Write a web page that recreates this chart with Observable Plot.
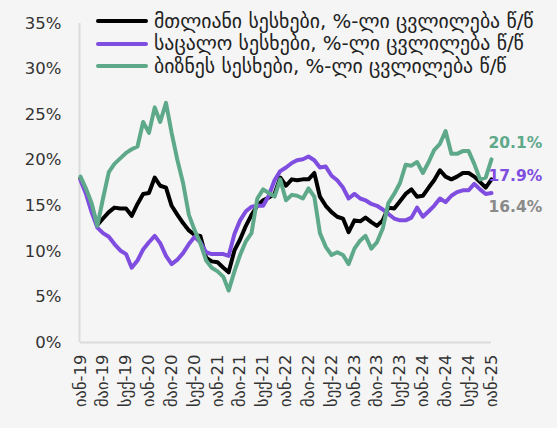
<!DOCTYPE html>
<html>
<head>
<meta charset="utf-8">
<script src="https://cdn.jsdelivr.net/npm/d3@7"></script>
<script src="https://cdn.jsdelivr.net/npm/@observablehq/plot@0.6"></script>
<style>
  html, body { margin: 0; padding: 0; background: #f5f5f5; }
  #wrap { position: relative; width: 557px; height: 428px; overflow: hidden; font-family: "DejaVu Sans", sans-serif; }
  #legend { position: absolute; left: 96px; top: 10px; font-size: 19.8px; color: #222; }
  .row { display: flex; align-items: center; height: 22.5px; white-space: nowrap; }
  .sw { width: 52px; height: 4px; border-radius: 2px; margin-right: 6px; flex: none; }
</style>
</head>
<body>
<div id="wrap"><div id="chart"></div><div id="legend"></div></div>
<script>
// Monthly, Jan 2019 .. Jan 2025
const startYear = 2019;
const monthNames = ["იან","თებ","მარ","აპრ","მაი","ივნ","ივლ","აგვ","სექ","ოქტ","ნოე","დეკ"];
const seriesNames = [
  "მთლიანი სესხები, %-ლი ცვლილება წ/წ",
  "საცალო სესხები, %-ლი ცვლილება წ/წ",
  "ბიზნეს სესხები, %-ლი ცვლილება წ/წ"
];
const totalLoans = [18.0,16.5,14.8,12.9,13.6,14.3,14.8,14.7,14.7,13.9,15.2,16.3,16.4,18.1,17.2,17.0,15.0,14.0,13.1,12.3,11.8,11.7,9.3,8.9,8.8,8.2,7.7,10.1,11.3,12.8,14.0,15.0,15.6,15.9,16.3,18.1,17.2,17.9,17.8,17.9,17.9,18.6,16.0,15.0,14.3,13.8,13.6,12.1,13.4,13.3,13.7,13.2,12.8,13.4,14.8,14.7,15.5,16.3,16.8,16.0,16.1,17.0,17.8,18.9,18.2,17.9,18.2,18.6,18.6,18.2,17.6,17.0,17.9];
const retailLoans = [17.8,16.2,14.3,12.6,12.0,11.6,10.8,10.1,9.7,8.2,9.0,10.2,11.0,11.7,10.9,9.5,8.6,9.1,9.8,10.8,11.6,11.0,9.9,9.7,9.7,9.7,9.5,11.9,13.4,14.4,14.9,15.0,15.0,16.1,17.8,18.8,19.2,19.7,20.0,20.1,20.4,20.0,19.2,19.3,18.3,17.8,17.0,15.8,16.3,15.8,15.6,15.2,15.0,14.6,14.1,13.6,13.4,13.4,13.7,14.8,13.8,14.4,15.0,15.8,15.4,16.1,16.5,16.7,16.7,17.4,16.8,16.3,16.4];
const businessLoans = [18.2,16.8,15.3,12.8,15.8,18.7,19.6,20.2,20.8,21.2,21.5,24.2,23.0,25.8,24.2,26.3,23.0,20.0,17.5,14.0,12.3,10.9,9.0,8.2,7.8,7.2,5.7,7.8,9.6,11.1,12.0,15.8,16.8,16.4,16.0,17.9,15.6,16.2,16.1,15.8,16.9,16.0,12.0,10.5,9.6,9.9,9.6,8.6,10.3,11.2,11.7,10.3,11.0,12.5,15.3,16.3,17.5,19.5,19.4,19.8,18.6,19.8,21.1,21.8,23.2,20.7,20.7,21.0,21.0,19.6,17.9,18.1,20.1];
const yTicks = [0,5,10,15,20,25,30,35];

const colors = ["#000000", "#7f4ddf", "#5fa98b"];
const seriesValues = [totalLoans, retailLoans, businessLoans];

const rows = [];
seriesValues.forEach((vals, s) => vals.forEach((v, i) => rows.push({
  series: seriesNames[s], date: new Date(Date.UTC(startYear, i, 1)), value: v
})));
const lastOf = s => rows.filter(r => r.series === seriesNames[s]).slice(-1);

const fmtX = d => monthNames[d.getUTCMonth()] + "-" + String(d.getUTCFullYear()).slice(2);

const chart = Plot.plot({
  width: 557, height: 428,
  marginLeft: 80, marginRight: 66, marginTop: 23, marginBottom: 86,
  style: { background: "transparent", fontFamily: "'DejaVu Sans', sans-serif", color: "#333" },
  x: { type: "utc", domain: [new Date(Date.UTC(2019,0,1)), new Date(Date.UTC(2025,0,1))] },
  y: { domain: [0, 35] },
  color: { domain: seriesNames, range: colors },
  marks: [
    Plot.ruleY([0], { stroke: "#dcdcdc", strokeWidth: 2 }),
    Plot.ruleX([new Date(Date.UTC(2019,0,1))], { y1: 0, y2: 35, stroke: "#dcdcdc", strokeWidth: 2, dx: -1 }),
    Plot.axisY({ ticks: yTicks, tickFormat: d => d + "%", tickSize: 0, tickPadding: 19, fontSize: 16.5, label: null }),
    Plot.axisX({ ticks: d3.utcMonth.every(4), tickFormat: fmtX, tickRotate: -90, tickSize: 0, tickPadding: 12, fontSize: 16.5, label: null }),
    Plot.line(rows, { x: "date", y: "value", z: "series", stroke: "series", strokeWidth: 4, curve: "linear" }),
    Plot.text(lastOf(2), { x: "date", y: "value", text: d => d.value.toFixed(1) + "%", fill: colors[2], fontWeight: "bold", fontSize: 15.5, textAnchor: "start", dx: -3, dy: -16 }),
    Plot.text(lastOf(0), { x: "date", y: "value", text: d => d.value.toFixed(1) + "%", fill: colors[1], fontWeight: "bold", fontSize: 15.5, textAnchor: "start", dx: -3, dy: -3 }),
    Plot.text(lastOf(1), { x: "date", y: "value", text: d => d.value.toFixed(1) + "%", fill: "#8a8a8a", fontWeight: "bold", fontSize: 15.5, textAnchor: "start", dx: -3, dy: 14 })
  ]
});
document.getElementById("chart").appendChild(chart);

const legend = document.getElementById("legend");
seriesNames.forEach((name, s) => {
  const row = document.createElement("div");
  row.className = "row";
  const sw = document.createElement("div");
  sw.className = "sw";
  sw.style.background = colors[s];
  const t = document.createElement("span");
  t.textContent = name;
  row.appendChild(sw); row.appendChild(t);
  legend.appendChild(row);
});
</script>
</body>
</html>
